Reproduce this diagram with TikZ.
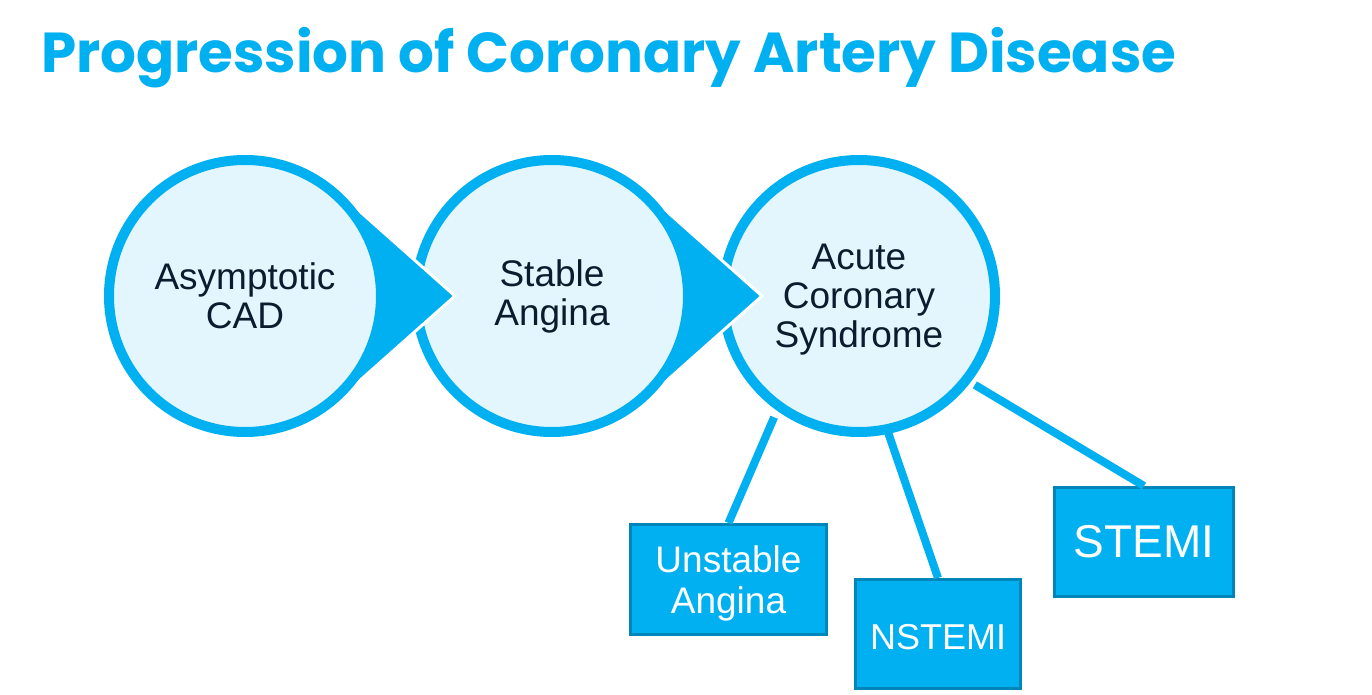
\documentclass[tikz,border=0pt]{standalone}
\usepackage{fontspec}
\setmainfont{Liberation Sans}
\newfontfamily\titlefont{Poppins}
\usetikzlibrary{calc}
\definecolor{mainblue}{HTML}{00B0F0}
\definecolor{lightfill}{HTML}{E4F6FD}
\definecolor{darktext}{HTML}{0D1B2E}
\definecolor{boxborder}{HTML}{0085B8}
\newcommand{\lowertext}[2]{\raisebox{-#1}[\height][\depth]{#2}}
\tikzset{
  stage/.style={circle, draw=mainblue, fill=lightfill, line width=10pt,
    minimum size=272pt, inner sep=0pt, align=center, text=darktext,
    font=\fontsize{37}{39}\selectfont},
  pointer/.style={fill=mainblue, draw=white, line width=3pt},
  typebox/.style={rectangle, draw=boxborder, fill=mainblue, line width=3pt,
    inner sep=0pt, align=center, text=white},
  conn/.style={draw=mainblue, line width=8pt}
}
\begin{document}
\begin{tikzpicture}[x=1pt,y=1pt]
\useasboundingbox (0,0) rectangle (1372,694);
% title
\node[anchor=base west, inner sep=0pt, text=mainblue] (title) at (41,621)
  {\resizebox{1135pt}{!}{\titlefont\bfseries\fontsize{60}{60}\selectfont Progression of Coronary Artery Disease}};
% circle 3
\node[stage] (c3) at (859,398) {\lowertext{5pt}{\begin{tabular}{@{}c@{}}Acute\\Coronary\\Syndrome\end{tabular}}};
% pointer 2 and circle 2
\coordinate (tip2) at (762,398);
\fill[pointer] (tip2) -- ($(552,398)+(47.83:139.5)$) -- ($(552,398)+(-47.83:139.5)$) -- cycle;
\node[stage] (c2) at (552,398) {\lowertext{2pt}{\begin{tabular}{@{}c@{}}Stable\\Angina\end{tabular}}};
% pointer 1 and circle 1
\coordinate (tip1) at (455,398);
\fill[pointer] (tip1) -- ($(245,398)+(47.83:139.5)$) -- ($(245,398)+(-47.83:139.5)$) -- cycle;
\node[stage] (c1) at (245,398) {Asymptotic\\CAD};
% boxes
\node[typebox, minimum width=196pt, minimum height=110pt,
  font=\fontsize{37}{41}\selectfont] (ua) at (728.5,114.5)
  {\lowertext{5pt}{\begin{tabular}{@{}c@{}}Unstable\\Angina\end{tabular}}};
\node[typebox, minimum width=165pt, minimum height=109pt,
  font=\fontsize{36}{40}\selectfont] (ns) at (938,60) {\lowertext{3pt}{NSTEMI}};
\node[typebox, minimum width=179pt, minimum height=109pt,
  font=\fontsize{46}{50}\selectfont] (st) at (1144,152) {STEMI};
% connectors
\coordinate (ua-start) at ($(c3.center)+(235:148)$);
\coordinate (ns-start) at ($(c3.center)+(-78:139)$);
\coordinate (st-start) at ($(c3.center)+(-37.5:146)$);
\draw[conn] (ua-start) -- (ua.north);
\draw[conn] (ns-start) -- (ns.north);
\draw[conn] (st-start) -- (st.north);
\end{tikzpicture}
\end{document}
